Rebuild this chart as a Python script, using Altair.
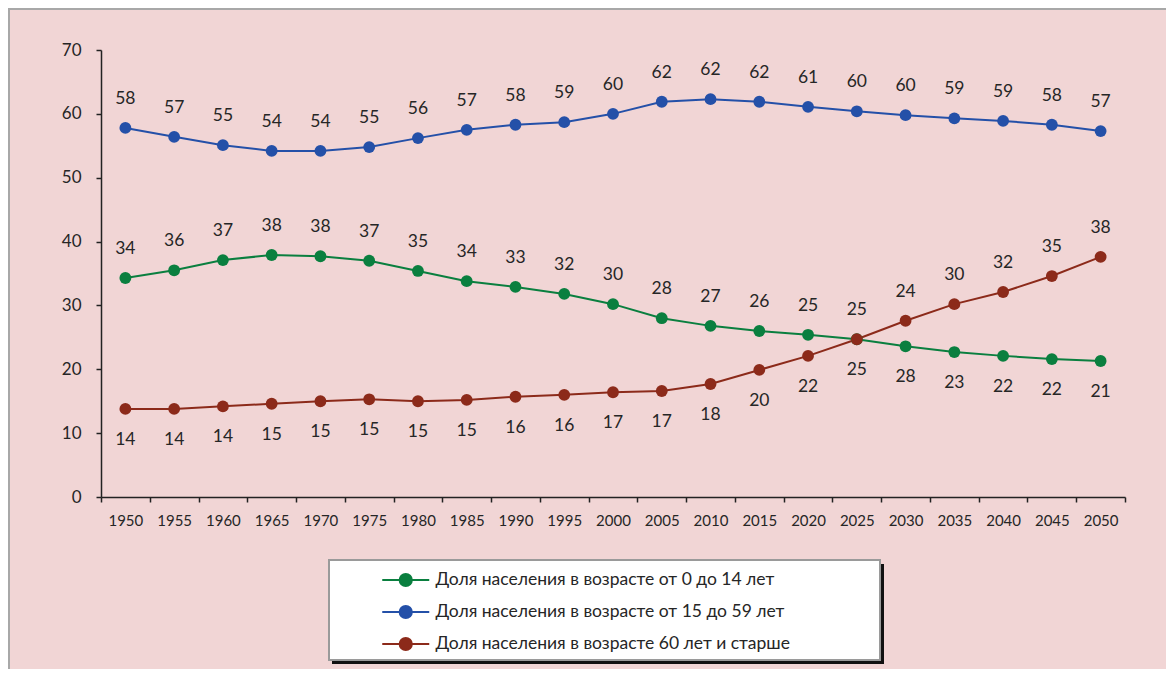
import altair as alt
import pandas as pd

years = [1950, 1955, 1960, 1965, 1970, 1975, 1980, 1985, 1990, 1995, 2000,
         2005, 2010, 2015, 2020, 2025, 2030, 2035, 2040, 2045, 2050]

series_names = [
    "Доля населения в возрасте от 0 до 14 лет",
    "Доля населения в возрасте от 15 до 59 лет",
    "Доля населения в возрасте 60 лет и старше",
]
series_colors = ["#0A7F3F", "#2450A8", "#8C2A1A"]

young = [34.3, 35.5, 37.1, 37.9, 37.7, 37.0, 35.4, 33.8, 32.9, 31.8, 30.2,
         28.0, 26.8, 26.0, 25.4, 24.7, 23.6, 22.7, 22.1, 21.6, 21.3]
working = [57.8, 56.4, 55.1, 54.2, 54.2, 54.8, 56.2, 57.5, 58.3, 58.7, 60.0,
           61.9, 62.3, 61.9, 61.1, 60.4, 59.8, 59.3, 58.9, 58.3, 57.3]
old = [13.8, 13.8, 14.2, 14.6, 15.0, 15.3, 15.0, 15.2, 15.7, 16.0, 16.4,
       16.6, 17.7, 19.9, 22.1, 24.7, 27.6, 30.2, 32.1, 34.6, 37.6]

# data labels as printed on the original chart, and their side
young_labels = ["34", "36", "37", "38", "38", "37", "35", "34", "33", "32", "30",
                "28", "27", "26", "25", "25", "28", "23", "22", "22", "21"]
young_pos = ["above"] * 16 + ["below"] * 5
working_labels = ["58", "57", "55", "54", "54", "55", "56", "57", "58", "59", "60",
                  "62", "62", "62", "61", "60", "60", "59", "59", "58", "57"]
working_pos = ["above"] * 21
old_labels = ["14", "14", "14", "15", "15", "15", "15", "15", "16", "16", "17",
              "17", "18", "20", "22", "25", "24", "30", "32", "35", "38"]
old_pos = ["below"] * 16 + ["above"] * 5

rows = []
for name, vals, labs, pos in [
    (series_names[0], young, young_labels, young_pos),
    (series_names[1], working, working_labels, working_pos),
    (series_names[2], old, old_labels, old_pos),
]:
    for y, v, l, p in zip(years, vals, labs, pos):
        rows.append({"year": y, "value": v, "series": name, "label": l, "pos": p})
df = pd.DataFrame(rows)

W, H = 1024, 447
FONT = "Lato"
TXT = "#262626"
BG = "#F1D5D5"

x_ticks = [1947.5 + 5 * i for i in range(22)]

color = alt.Color(
    "series:N",
    scale=alt.Scale(domain=series_names, range=series_colors),
    legend=alt.Legend(
        title=None,
        orient="none",
        legendX=291.75,
        legendY=517,
        padding=0,
        labelFont=FONT,
        labelFontSize=17.5,
        labelColor=TXT,
        labelLimit=600,
        labelOffset=16.75,
        rowPadding=8,
        symbolType="M-2,0H-0.52A0.52,0.52,0,1,1,0.52,0A0.52,0.52,0,1,1,-0.52,0M0.52,0H2",
        symbolSize=552,
        symbolStrokeWidth=2,
        symbolOpacity=1,
    ),
)

x_enc = alt.X(
    "year:Q",
    scale=alt.Scale(domain=[1947.5, 2052.5], nice=False, zero=False),
    axis=alt.Axis(
        title=None,
        values=x_ticks,
        labelExpr="datum.value < 2050 ? toString(datum.value + 2.5) : ''",
        labelOffset=W / 105 * 2.5,
        grid=False,
        tickSize=5,
        labelPadding=11,
        labelFontSize=15,
        labelFont=FONT,
        labelColor=TXT,
        domainColor="#222222",
        tickColor="#222222",
        domainWidth=1.5,
        tickWidth=1.5,
        labelFlush=False,
        labelOverlap=False,
    ),
)
y_enc = alt.Y(
    "value:Q",
    scale=alt.Scale(domain=[0, 70], nice=False),
    axis=alt.Axis(
        title=None,
        values=[0, 10, 20, 30, 40, 50, 60, 70],
        grid=False,
        tickSize=5,
        labelPadding=15,
        labelFontSize=17,
        labelFont=FONT,
        labelColor=TXT,
        domainColor="#222222",
        tickColor="#222222",
        domainWidth=1.5,
        tickWidth=1.5,
    ),
)

base = alt.Chart(df).encode(x=x_enc, y=y_enc)

lines = base.mark_line(strokeWidth=2).encode(color=color, detail="series:N")
points = base.mark_point(filled=True, size=140, opacity=1).encode(color=color)
labels_above = base.transform_filter(alt.datum.pos == "above").mark_text(
    dy=-29, fontSize=17.5, font=FONT, color=TXT
).encode(text="label:N")
labels_below = base.transform_filter(alt.datum.pos == "below").mark_text(
    dy=31, fontSize=17.5, font=FONT, color=TXT
).encode(text="label:N")

deco = alt.Chart(pd.DataFrame({"k": [0]}))
frame = deco.mark_rect(fill=None, stroke="#A8A8A8", strokeWidth=2).encode(
    x=alt.value(-92), x2=alt.value(1200), y=alt.value(-41), y2=alt.value(800)
)
shadow = deco.mark_rect(fill="#111111").encode(
    x=alt.value(231), x2=alt.value(783), y=alt.value(514), y2=alt.value(614)
)
box = deco.mark_rect(fill="white", stroke="#9A9A9A", strokeWidth=2).encode(
    x=alt.value(228), x2=alt.value(779), y=alt.value(510), y2=alt.value(610)
)

chart = alt.layer(frame, shadow, box, lines, points, labels_above, labels_below).properties(
    width=W,
    height=H,
    autosize=alt.AutoSizeParams(type="none"),
    padding={"left": 93, "top": 42, "right": 41, "bottom": 172},
    background=BG,
).configure_view(stroke=None)

chart.save("out.html", embed_options={"renderer": "svg", "actions": False})
